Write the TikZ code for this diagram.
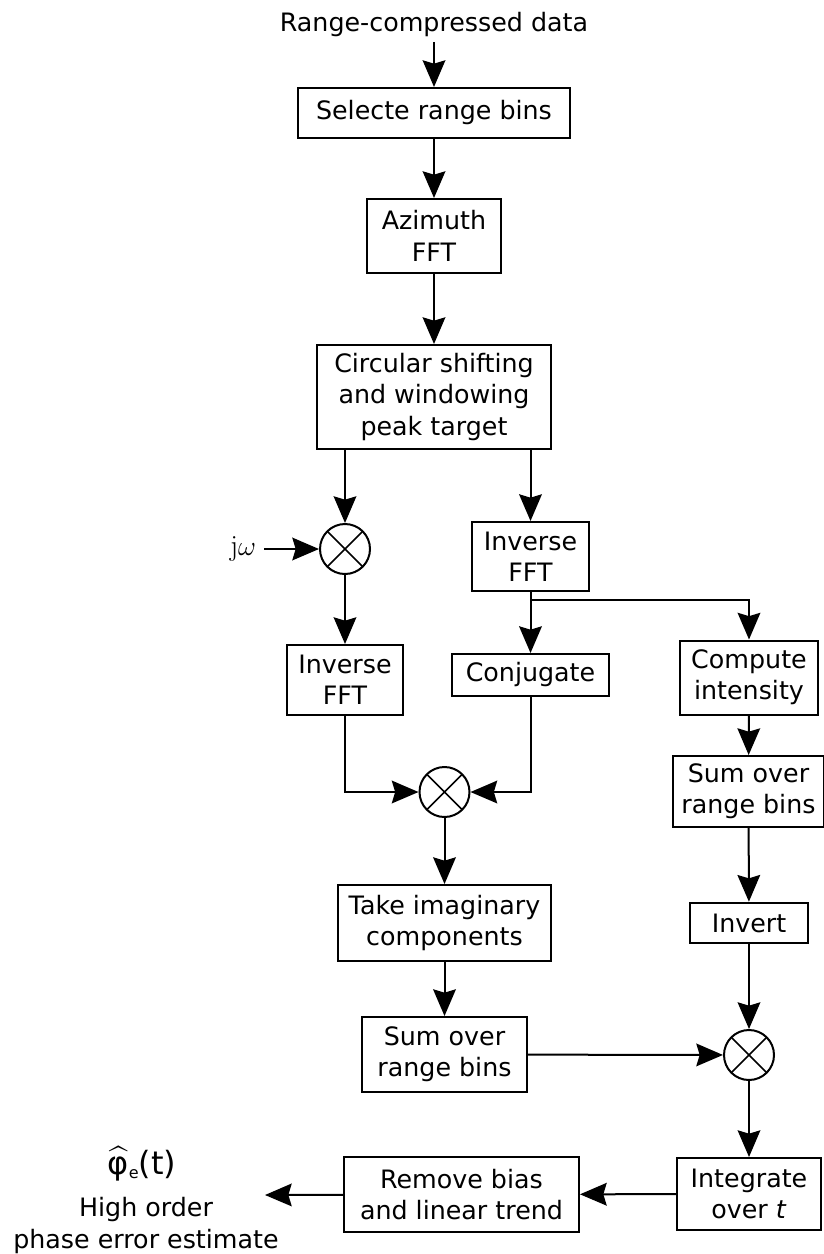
\documentclass[tikz,border=0pt]{standalone}
\usepackage{amsmath}
\usepackage{fontspec}
\setsansfont{DejaVu Sans}
\usetikzlibrary{arrows.meta}

\begin{document}
\begin{tikzpicture}[
    x=0.75pt, y=-0.75pt,
    >={Stealth[length=20pt,width=17pt,inset=2.5pt]},
    every node/.style={font=\sffamily\fontsize{19}{23.5}\selectfont},
    box/.style={draw, line width=1.5pt, align=center, inner sep=2pt},
    mult/.style={circle, draw, line width=1.5pt, minimum size=37.5pt, inner sep=0pt,
        path picture={\draw[line width=1.2pt]
            (path picture bounding box.north west) -- (path picture bounding box.south east)
            (path picture bounding box.north east) -- (path picture bounding box.south west);}},
    flow/.style={line width=1.5pt, ->},
    wire/.style={line width=1.5pt},
    outlbl/.style={anchor=base, inner sep=0pt},
]
\useasboundingbox (0,0) rectangle (824,1254);

% ============================================================
% Column positions
% ============================================================
\def\colA{345}
\def\colB{434}
\def\colC{530.5}
\def\colD{749}
\def\colE{444.5}

% Input chain
\node (src) at (\colB,25) {Range-compressed data};
\node[box, minimum width=204pt, minimum height=37.5pt] (sel) at (\colB,113) {Selecte range bins};
\node[box, minimum width=101pt, minimum height=55.5pt] (azi) at (\colB,236) {Azimuth\\FFT};
\node[box, minimum width=175.5pt, minimum height=78pt] (circ) at (\colB,397) {Circular shifting\\and windowing\\peak target};

% Derivative branch
\node[mult] (mulA) at (\colA,549) {};
\node[inner sep=6pt, font=\rmfamily\fontsize{22}{24}\selectfont] (jw) at (243,549) {j$\omega$};
\node[box, minimum width=87pt, minimum height=52.5pt] (ifftL) at (\colA,680) {Inverse\\FFT};

% Signal branch
\node[box, minimum width=87.75pt, minimum height=51.75pt] (ifftR) at (\colC,556.5) {Inverse\\FFT};
\node[box, minimum width=117.75pt, minimum height=31.5pt] (conj) at (\colC,675) {Conjugate};
\coordinate (split) at (\colC,600);

% Intensity branch
\node[box, minimum width=104pt, minimum height=55.5pt] (comp) at (\colD,677.5) {Compute\\intensity};
\node[box, minimum width=113.25pt, minimum height=53.25pt] (sumR) at (748.5,791.5) {Sum over\\range bins};
\node[box, minimum width=88pt, minimum height=30.5pt] (inv) at (\colD,923) {Invert};

% Product and sum
\node[mult] (mulB) at (\colE,792) {};
\node[box, minimum width=159.75pt, minimum height=57pt] (imag) at (\colE,923) {Take imaginary\\components};
\node[box, minimum width=123.75pt, minimum height=56.25pt] (sumL) at (\colE,1054.5) {Sum over\\range bins};
\node[mult] (mulC) at (\colD,1055) {};

% Output chain
\node[box, minimum width=108pt, minimum height=54pt] (integ) at (\colD,1194) {Integrate\\over \textit{t}};
\node[box, minimum width=176.25pt, minimum height=56.25pt] (rmv) at (461.5,1194.5) {Remove bias\\and linear trend};
\node[outlbl, font=\sffamily\fontsize{24}{24}\selectfont] (phi) at (142,1174) {$\widehat{\text{\sffamily φ}}$\raisebox{-0.15em}{\fontsize{12}{12}\selectfont e}(t)};
\node[outlbl] (high) at (146,1216) {High order};
\node[outlbl] (phase) at (146,1248) {phase error estimate};
\coordinate (outend) at (265,1195);

% ============================================================
% Connectors
% ============================================================
\draw[flow] (src) -- (sel);
\draw[flow] (sel) -- (azi);
\draw[flow] (azi) -- (circ);
\draw[flow] (circ.south -| mulA) -- (mulA);
\draw[flow] (circ.south -| ifftR) -- (ifftR);
\draw[flow] (jw) -- (mulA);
\draw[flow] (mulA) -- (ifftL);
\draw[wire] (ifftR) -- (split);
\draw[flow] (split) -- (conj);
\draw[flow] (split) -| (comp);
\draw[flow] (ifftL) |- (mulB);
\draw[flow] (conj) |- (mulB);
\draw[flow] (mulB) -- (imag);
\draw[flow] (imag) -- (sumL);
\draw[flow] (comp) -- (sumR);
\draw[flow] (sumR) -- (inv);
\draw[flow] (inv) -- (mulC);
\draw[flow] (sumL) -- (mulC);
\draw[flow] (mulC) -- (integ);
\draw[flow] (integ) -- (rmv);
\draw[flow] (rmv) -- (outend);

\end{tikzpicture}
\end{document}
